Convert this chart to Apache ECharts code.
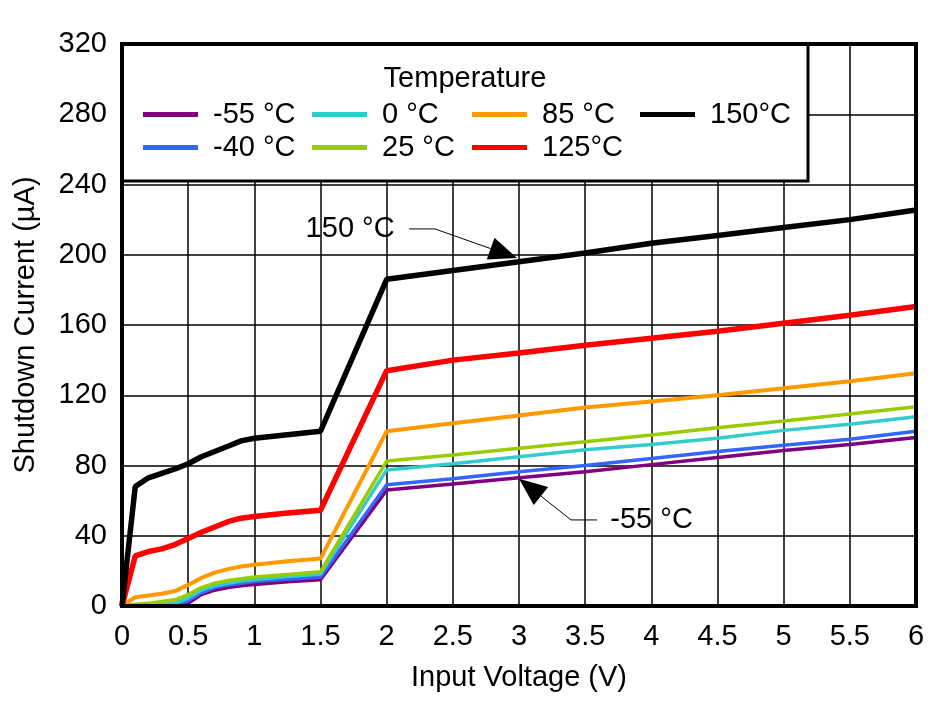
<!DOCTYPE html>
<html><head><meta charset="utf-8">
<script src="https://cdn.jsdelivr.net/npm/echarts@6/dist/echarts.min.js"></script>
<style>html,body{margin:0;padding:0;background:#fff}#c{width:948px;height:701px}</style>
</head><body><div id="c"></div>
<script>
const FONT = 'Liberation Sans, Arial, sans-serif';
const FS = 29;

// Data
const volts = [0,0.1,0.2,0.3,0.4,0.5,0.6,0.7,0.8,0.9,1.0,1.25,1.5,2.0,2.5,3.0,3.5,4.0,4.5,5.0,5.5,6.0];
const iM55 = [0,0,0,0,0,1.5,6.5,9,10.5,11.5,12.3,13.8,15,66,69.5,73,76.5,80.5,84.5,88.5,92,96];
const iM40 = [0,0,0,0,0.5,3,7.5,10.5,12,13,14,15.3,16.5,69,72.5,76.5,80,84,88,91.5,95,99.5];
const i0   = [0,0,0.3,0.8,1.5,4.5,9,11.5,13,14.2,15,16.8,18.2,77.5,81,85,89,92,95.5,100,103.5,107.8];
const i25  = [0,1,1.5,2.5,3.5,6.5,10.5,13,14.5,15.5,16.5,18,19.5,82.5,86,89.8,93.5,97.4,101.5,105.3,109.3,113.5];
const i85  = [0,5,6,7,8.5,12,16,19,21,22.5,23.5,25.5,27,99.5,104,108.5,113,116.5,120,124,128,132.5];
const i125 = [0,28.5,31,32.5,35,38.5,42,45,48,50,51,53,54.5,134,140,144,148.5,152.5,156.5,161,165.5,170.5];
const i150 = [0,68,73,75.5,78,81,85,88,91,94,95.5,97.5,99.5,186,191,196,201,206.5,211,215.5,220,225.5];

const seriesNames = ['-55 °C','-40 °C','0 °C','25 °C','85 °C','125°C','150°C'];
const seriesVals = [iM55,iM40,i0,i25,i85,i125,i150];
const seriesColors = ['#800080','#3366FF','#33CCCC','#99CC00','#FF9900','#FF0000','#000000'];
const seriesWidths = [3.5,3.5,3.5,3.5,4,5.5,5.5];

const xTicks = ['0','0.5','1','1.5','2','2.5','3','3.5','4','4.5','5','5.5','6'];
const yTicks = ['0','40','80','120','160','200','240','280','320'];

// Annotations (data coords)
const ann150 = {text:'150 °C', textAt:[2.06,214.7], start:[2.17,214.7], elbow:[2.365,214.7], tip:[2.985,198.2]};
const annM55 = {text:'-55 °C', textAt:[3.69,49], start:[3.59,49], elbow:[3.393,49], tip:[3.0,72.5]};

const chart = echarts.init(document.getElementById('c'), null, {renderer:'canvas'});

const series = seriesNames.map((n,k)=>({
  name:n, type:'line', symbol:'none', showSymbol:false, z:2+k*0.01,
  data: volts.map((v,i)=>[v, seriesVals[k][i]]),
  lineStyle:{color:seriesColors[k], width:seriesWidths[k]},
  itemStyle:{color:seriesColors[k]},
  emphasis:{disabled:true}
}));

function leg(names, left){
  return {
    data: names.map(n=>({name:n, icon:'rect'})),
    orient:'vertical', left:left, top:100, padding:0, itemGap:4,
    itemWidth:55, itemHeight:5, selectedMode:false, z:20,
    textStyle:{fontFamily:FONT, fontSize:FS, color:'#000', lineHeight:24, padding:[0,0,0,10]}
  };
}

chart.setOption({
  animation:false,
  backgroundColor:'#fff',
  grid:{left:122, right:32, top:44, bottom:95, show:false},
  xAxis:{
    type:'value', min:0, max:6, interval:0.5,
    name:'Input Voltage (V)', nameLocation:'middle', nameGap:57,
    nameTextStyle:{fontFamily:FONT, fontSize:FS, color:'#000'},
    axisLine:{show:false}, axisTick:{show:false},
    axisLabel:{fontFamily:FONT, fontSize:FS, color:'#000', margin:16,
      formatter:(v)=>{const i=Math.round(v/0.5); return xTicks[i]!==undefined?xTicks[i]:'';}},
    splitLine:{show:true, lineStyle:{color:'#000', width:1.5}}
  },
  yAxis:{
    type:'value', min:0, max:320, interval:40,
    name:'Shutdown Current (µA)', nameLocation:'middle', nameGap:82,
    nameTextStyle:{fontFamily:FONT, fontSize:FS, color:'#000'},
    axisLine:{show:false}, axisTick:{show:false},
    axisLabel:{fontFamily:FONT, fontSize:FS, color:'#000', margin:15,
      formatter:(v)=>{const i=Math.round(v/40); return yTicks[i]!==undefined?yTicks[i]:'';}},
    splitLine:{show:true, lineStyle:{color:'#000', width:1.5}}
  },
  legend:[
    leg(['-55 °C','-40 °C'],143),
    leg(['0 °C','25 °C'],312),
    leg(['85 °C','125°C'],472),
    leg(['150°C'],640)
  ],
  series:series
});

function P(d){ return chart.convertToPixel({gridIndex:0}, d); }
function annotation(a, textAlign){
  const t = P(a.textAt), s = P(a.start), e = P(a.elbow), tip = P(a.tip);
  const dx = tip[0]-e[0], dy = tip[1]-e[1], L = Math.hypot(dx,dy);
  const ux = dx/L, uy = dy/L, len = 28, hw = 11.5;
  const bx = tip[0]-ux*len, by = tip[1]-uy*len;
  return [
    {type:'polyline', z:30, shape:{points:[s,e,[bx,by]]}, style:{stroke:'#000', lineWidth:1, fill:null}},
    {type:'polygon', z:30, shape:{points:[tip,[bx-uy*hw,by+ux*hw],[bx+uy*hw,by-ux*hw]]}, style:{fill:'#000'}},
    {type:'text', z:30, x:t[0], y:t[1], style:{text:a.text, font:FS+'px '+FONT, fill:'#000', align:textAlign, verticalAlign:'middle'}}
  ];
}

const g0 = P([0,0]), g1 = P([6,320]);
const legBox = {right:808, bottom:181};
chart.setOption({
  graphic:[
    {type:'rect', z:3, shape:{x:g0[0], y:g1[1], width:legBox.right-g0[0], height:legBox.bottom-g1[1]},
      style:{fill:'#fff', stroke:'#000', lineWidth:3}},
    {type:'text', z:25, x:(g0[0]+legBox.right)/2, y:79,
      style:{text:'Temperature', font:FS+'px '+FONT, fill:'#000', align:'center', verticalAlign:'middle'}},
    {type:'rect', z:26, shape:{x:g0[0], y:g1[1], width:g1[0]-g0[0], height:g0[1]-g1[1]},
      style:{fill:null, stroke:'#000', lineWidth:4}},
    ...annotation(ann150,'right'),
    ...annotation(annM55,'left')
  ]
});
</script></body></html>
